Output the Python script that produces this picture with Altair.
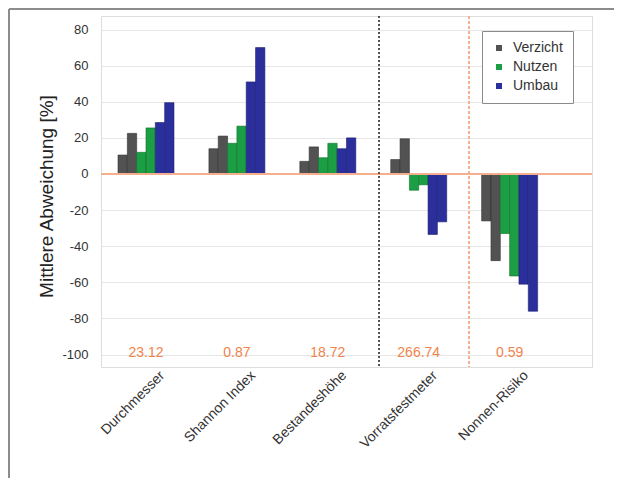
import json
import altair as alt
import pandas as pd

categories = ["Durchmesser", "Shannon Index", "Bestandeshöhe", "Vorratsfestmeter", "Nonnen-Risiko"]
scenarios = ["Verzicht", "Nutzen", "Umbau"]
verzicht_1 = [10.5, 14.0, 7.0, 8.0, -26.0]
verzicht_2 = [22.5, 21.0, 15.0, 19.5, -48.0]
nutzen_1 = [12.0, 17.0, 9.0, -9.0, -33.0]
nutzen_2 = [25.5, 26.5, 17.0, -6.0, -56.5]
umbau_1 = [28.5, 51.0, 14.0, -33.5, -61.0]
umbau_2 = [39.5, 70.0, 20.0, -26.5, -76.0]
ref_labels = ["23.12", "0.87", "18.72", "266.74", "0.59"]

series = [
    ("Verzicht", 1, verzicht_1), ("Verzicht", 2, verzicht_2),
    ("Nutzen", 1, nutzen_1), ("Nutzen", 2, nutzen_2),
    ("Umbau", 1, umbau_1), ("Umbau", 2, umbau_2),
]

BW = 0.1026  # bar width in group units
rows = []
for i, cat in enumerate(categories):
    for j, (sc, per, vals) in enumerate(series):
        x0 = i + (j - 3) * BW
        rows.append({"Kategorie": cat, "Szenario": sc, "Periode": per,
                     "x0": x0, "x1": x0 + BW, "v": vals[i], "zero": 0})
df = pd.DataFrame(rows)
lab_df = pd.DataFrame({"idx": list(range(len(categories))), "txt": ref_labels})

FONT = "Liberation Sans"
ORANGE_T = "#f0834a"
ORANGE_L = "#f6b08e"
fill_colors = ["#525252", "#1c9e44", "#2b2f9c"]
stroke_colors = ["#333333", "#11702e", "#1c1f6e"]

xscale = alt.Scale(domain=[-0.495, 4.906], nice=False, zero=False)
yscale = alt.Scale(domain=[-106.9, 87.5], nice=False, zero=False)

label_expr = json.dumps(categories) + "[datum.value]"

xaxis = alt.Axis(values=list(range(len(categories))), labelExpr=label_expr,
                 title=None, grid=False, ticks=False, domain=False,
                 labelAngle=-45, labelAlign="right", labelBaseline="middle",
                 labelOffset=16, labelPadding=6, labelFontSize=14,
                 labelColor="#333333", labelFont=FONT, labelOverlap=False)
yaxis = alt.Axis(values=list(range(-100, 81, 20)), title="Mittlere Abweichung [%]",
                 labelExpr="toString(datum.value)", labelOverlap=False,
                 grid=True, gridColor="#e6e6e6", ticks=False, domain=False,
                 labelFontSize=13, labelColor="#333333", labelPadding=13,
                 labelFont=FONT, titleFont=FONT, titleFontSize=19,
                 titleFontWeight="normal", titleColor="#222222", titlePadding=5,
                 titleY=180)

bars = alt.Chart(df).mark_rect(strokeWidth=0.6).encode(
    x=alt.X("x0:Q", scale=xscale, axis=xaxis),
    x2="x1:Q",
    y=alt.Y("v:Q", scale=yscale, axis=yaxis),
    y2="zero:Q",
    fill=alt.Fill("Szenario:N", scale=alt.Scale(domain=scenarios, range=fill_colors),
                  legend=alt.Legend(title=None, orient="none", legendX=381, legendY=15,
                                    strokeColor="#8a8a8a", fillColor="white", padding=10,
                                    labelFontSize=14, labelFont=FONT, labelColor="#333333",
                                    symbolType="square", symbolSize=36, symbolStrokeWidth=0,
                                    rowPadding=5, labelOffset=7)),
    stroke=alt.Stroke("Szenario:N", scale=alt.Scale(domain=scenarios, range=stroke_colors),
                      legend=None),
)

zero_line = alt.Chart(df).mark_rule(color=ORANGE_L, strokeWidth=1).encode(
    y=alt.Y(datum=0, scale=yscale, axis=yaxis))
div_dark = alt.Chart(df).mark_rule(color="#555555", strokeWidth=1, strokeDash=[2, 2]).encode(
    x=alt.X(datum=2.565, scale=xscale, axis=xaxis))
div_orange = alt.Chart(df).mark_rule(color=ORANGE_L, strokeWidth=1, strokeDash=[3, 2]).encode(
    x=alt.X(datum=3.553, scale=xscale, axis=xaxis))

texts = alt.Chart(lab_df).mark_text(color=ORANGE_T, fontSize=14, font=FONT,
                                    baseline="middle", align="center").encode(
    x=alt.X("idx:Q", scale=xscale, axis=xaxis), y=alt.value(336.5), text="txt:N")

frame_top = alt.Chart(df).mark_rule(color="#8c8c8c", strokeWidth=2).encode(
    x=alt.value(-92), x2=alt.value(520), y=alt.value(-7))
frame_left = alt.Chart(df).mark_rule(color="#8c8c8c", strokeWidth=2).encode(
    x=alt.value(-92), y=alt.value(-7), y2=alt.value(470))

chart = alt.layer(bars, zero_line, div_dark, div_orange, texts, frame_top, frame_left).properties(
    width=491, height=351,
    autosize=alt.AutoSizeParams(type="none"),
    padding={"left": 93, "top": 8, "right": 22, "bottom": 111},
).configure_view(stroke="#a3a3a3", strokeWidth=2).configure(background="white")

chart.save("out.html", embed_options={"renderer": "svg", "actions": False})
